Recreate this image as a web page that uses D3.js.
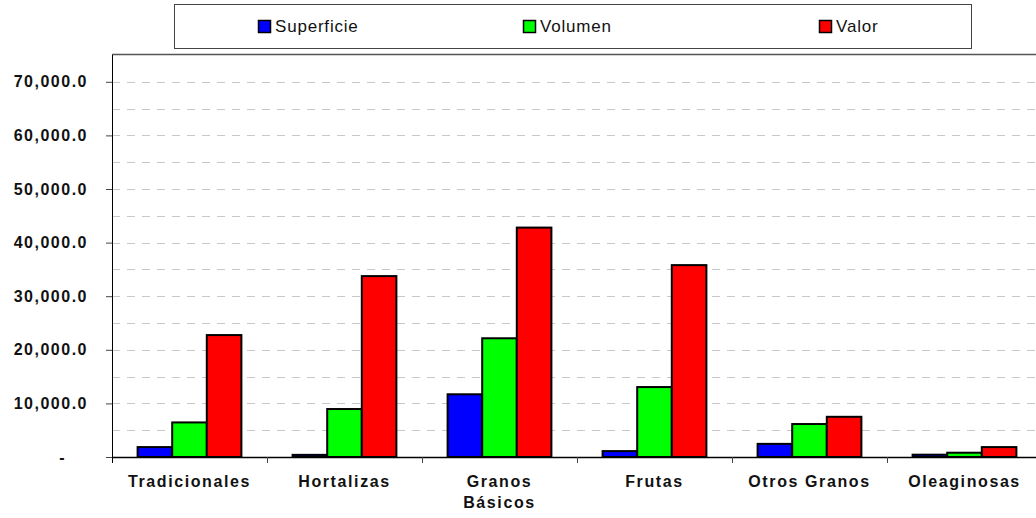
<!DOCTYPE html>
<html>
<head>
<meta charset="utf-8">
<script src="https://cdn.jsdelivr.net/npm/d3@7"></script>
<style>
  body { margin: 0; background: #fff; }
  text { font-family: "Liberation Sans", Arial, sans-serif; }
</style>
</head>
<body>
<div class="chart"></div>
<script>
var width = 1036, height = 518;
var margin = {top: 55, left: 112, bottom: 61};

var categories = ["Tradicionales", "Hortalizas", "Granos Básicos", "Frutas", "Otros Granos", "Oleaginosas"];
var series = ["Superficie", "Volumen", "Valor"];
var colors = ["#0000ff", "#00ff00", "#ff0000"];

var superficie = [1850, 400, 11700, 1100, 2450, 430];
var volumen = [6450, 8950, 22150, 13050, 6150, 800];
var valor = [22750, 33750, 42800, 35800, 7500, 1850];

var yTicks = [0, 10000, 20000, 30000, 40000, 50000, 60000, 70000];
var yGrid = d3.range(5000, 75000, 5000);

var values = [superficie, volumen, valor];

var svg = d3.select(".chart").append("svg")
  .attr("width", width)
  .attr("height", height);

var x0 = d3.scaleBand()
  .domain(categories)
  .range([margin.left, margin.left + 155 * 6])
  .paddingInner(0)
  .paddingOuter(0);

var x1 = d3.scaleBand()
  .domain(series)
  .range([0, x0.bandwidth()])
  .paddingOuter(0.74);

var yScale = d3.scaleLinear()
  .domain([0, 75000])
  .range([height - margin.bottom, margin.top]);

// gridlines
svg.append("g").selectAll("line")
  .data(yGrid)
  .enter().append("line")
  .attr("x1", margin.left).attr("x2", width)
  .attr("y1", d => Math.round(yScale(d)) + 0.5)
  .attr("y2", d => Math.round(yScale(d)) + 0.5)
  .attr("stroke", "#c8c8c8")
  .attr("stroke-dasharray", "8,7");

// top border
svg.append("line")
  .attr("x1", margin.left).attr("x2", width)
  .attr("y1", margin.top - 0.5).attr("y2", margin.top - 0.5)
  .attr("stroke", "#555").attr("stroke-width", 1.5);

// bars
var groups = svg.append("g").selectAll("g")
  .data(categories)
  .enter().append("g")
  .attr("transform", d => "translate(" + x0(d) + ",0)");

groups.selectAll("rect")
  .data((d, i) => series.map((s, j) => ({s: s, v: values[j][i], c: colors[j]})))
  .enter().append("rect")
  .attr("x", d => x1(d.s))
  .attr("width", x1.bandwidth())
  .attr("y", d => yScale(d.v))
  .attr("height", d => yScale(0) - yScale(d.v))
  .attr("fill", d => d.c)
  .attr("stroke", "#000")
  .attr("stroke-width", 2);

// y axis
var yAxis = d3.axisLeft(yScale)
  .tickValues(yTicks)
  .tickSize(6)
  .tickPadding(18)
  .tickFormat(d => d === 0 ? "-" : d3.format(",.1f")(d));

var gy = svg.append("g")
  .attr("transform", "translate(" + margin.left + ",0)")
  .call(yAxis);
gy.select(".domain").attr("d", "M0.5," + margin.top + "V" + (height - margin.bottom + 6)).attr("stroke", "#000");
gy.selectAll(".tick line").attr("stroke", "#444");
gy.selectAll("text")
  .attr("font-size", 16)
  .attr("font-weight", "bold")
  .attr("letter-spacing", "1.5px")
  .attr("fill", "#111")
  .style("font-family", "'Liberation Sans', Arial, sans-serif");
gy.selectAll(".tick").filter(d => d === 0).select("text").attr("dx", -22);

// x axis
var xAxis = d3.axisBottom(x0).tickSize(0).tickPadding(19);
var gx = svg.append("g")
  .attr("transform", "translate(0," + yScale(0) + ")")
  .call(xAxis);
gx.select(".domain").attr("d", "M" + margin.left + ",0.5H" + width).attr("stroke", "#000").attr("stroke-width", 1.5);
gx.selectAll(".tick text")
  .attr("font-size", 16)
  .attr("font-weight", "bold")
  .attr("fill", "#111")
  .attr("letter-spacing", "1.6px")
  .style("font-family", "'Liberation Sans', Arial, sans-serif");

// two-line label for Granos Básicos
gx.selectAll(".tick text").each(function(d) {
  var words = d.split(" ");
  if (d === "Granos Básicos") {
    var t = d3.select(this).text(null);
    t.append("tspan").attr("x", 0).attr("dy", "0.71em").text(words[0]);
    t.append("tspan").attr("x", 0).attr("dy", "1.3em").text(words[1]);
  }
});

// category separators
svg.append("g").selectAll("line")
  .data(categories.slice(1))
  .enter().append("line")
  .attr("x1", d => x0(d) + 0.5).attr("x2", d => x0(d) + 0.5)
  .attr("y1", yScale(0)).attr("y2", yScale(0) + 6)
  .attr("stroke", "#444");

// legend
var legend = svg.append("g");
legend.append("rect")
  .attr("x", 174.5).attr("y", 4.5)
  .attr("width", 797).attr("height", 44)
  .attr("fill", "#fff").attr("stroke", "#444");

var legendX = [258, 523, 819];
var items = legend.selectAll("g.item")
  .data(series)
  .enter().append("g")
  .attr("class", "item")
  .attr("transform", (d, i) => "translate(" + legendX[i] + ",0)");
items.append("rect")
  .attr("x", 0.5).attr("y", 20.5)
  .attr("width", 12).attr("height", 12)
  .attr("fill", (d, i) => colors[i])
  .attr("stroke", "#000").attr("stroke-width", 1.5);
items.append("text")
  .attr("x", 17).attr("y", 31.5)
  .attr("font-size", 17)
  .attr("letter-spacing", "0.8px")
  .attr("fill", "#111")
  .text(d => d);
</script>
</body>
</html>
